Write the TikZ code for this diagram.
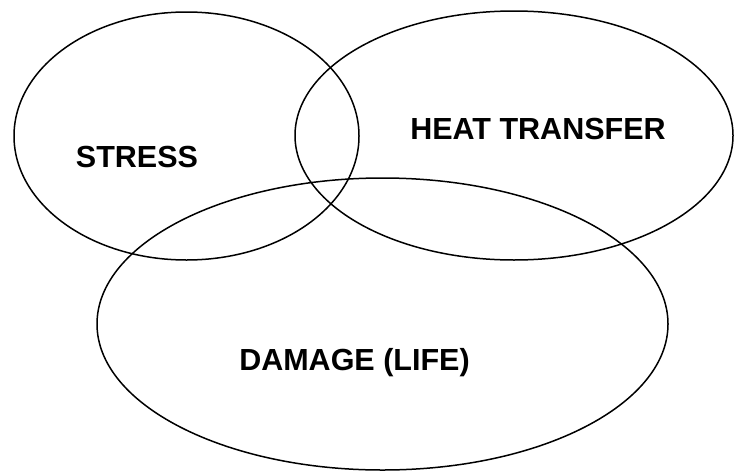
\documentclass[tikz,border=0pt]{standalone}
\usepackage{fontspec}
\setmainfont{Liberation Sans}
\begin{document}
\begin{tikzpicture}[x=1pt,y=-1pt,
  venn/.style={draw=black,line width=1.5pt},
  lbl/.style={font=\fontsize{30.5}{34}\selectfont\bfseries,anchor=base,inner sep=0pt}]
\useasboundingbox (0,0) rectangle (735,471);
\draw[venn] (186.5,136) ellipse [x radius=172.5, y radius=124];
\draw[venn] (514,135.5) ellipse [x radius=219, y radius=124.5];
\draw[venn] (382.5,324) ellipse [x radius=285.5, y radius=146];
\node[lbl] (stress) at (137,167) {STRESS};
\node[lbl] (heat) at (538,139) {HEAT TRANSFER};
\node[lbl] (damage) at (354.5,370) {DAMAGE (LIFE)};
\end{tikzpicture}
\end{document}
